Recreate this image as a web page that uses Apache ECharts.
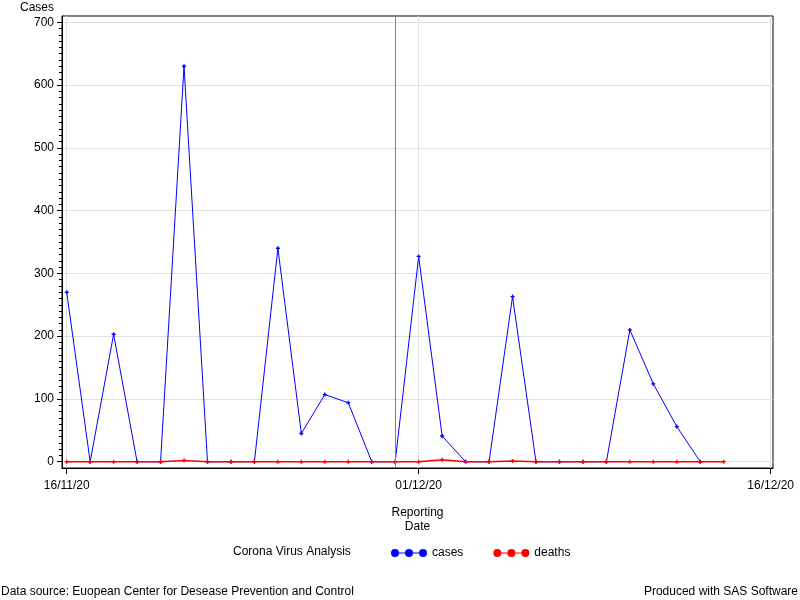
<!DOCTYPE html>
<html>
<head>
<meta charset="utf-8">
<script src="https://cdn.jsdelivr.net/npm/echarts@6/dist/echarts.min.js"></script>
<style>html,body{margin:0;padding:0;background:#fff}#c{width:800px;height:600px}</style>
</head>
<body>
<div id="c"></div>
<script>
// ---- data ----
var dates = ['2020-11-16','2020-11-17','2020-11-18','2020-11-19','2020-11-20','2020-11-21','2020-11-22','2020-11-23','2020-11-24','2020-11-25','2020-11-26','2020-11-27','2020-11-28','2020-11-29','2020-11-30','2020-12-01','2020-12-02','2020-12-03','2020-12-04','2020-12-05','2020-12-06','2020-12-07','2020-12-08','2020-12-09','2020-12-10','2020-12-11','2020-12-12','2020-12-13','2020-12-14'];
var cases = [270, 0, 203, 0, 0, 630, 0, 0, 0, 340, 45, 107, 94, 0, 0, 327, 41, 0, 0, 263, 0, 0, 0, 0, 210, 124, 56, 0];
var deaths = [0, 0, 0, 0, 0, 2, 0, 0, 0, 0, 0, 0, 0, 0, 0, 0, 3, 0, 0, 1, 0, 0, 0, 0, 0, 0, 0, 0, 0];
var xTickDates = ['2020-11-16', '2020-12-01', '2020-12-16'];
var yTicks = [0, 100, 200, 300, 400, 500, 600, 700];
var refDate = '2020-11-30';

function ts(s) { var p = s.split('-'); return Date.UTC(+p[0], +p[1] - 1, +p[2]); }
function fmt(v) {
  var d = new Date(v);
  var dd = ('0' + d.getUTCDate()).slice(-2), mm = ('0' + (d.getUTCMonth() + 1)).slice(-2), yy = ('' + d.getUTCFullYear()).slice(-2);
  return dd + '/' + mm + '/' + yy;
}
var DAY = 86400000;
var xTicks = xTickDates.map(ts);
var yMinor = [];
for (var v = 0; v <= 700; v += 10) yMinor.push(v);

var FONT = 'Liberation Sans, Arial, sans-serif';
var plusPath = 'path://M1,0 H2 V1 H3 V2 H2 V3 H1 V2 H0 V1 H1 Z';
var legendIcon = 'path://M0,4 A4,4 0 1,1 8,4 L14,4 A4,4 0 1,1 22,4 L28,4 A4,4 0 1,1 36,4 A4,4 0 1,1 28,4 L22,4 A4,4 0 1,1 14,4 L8,4 A4,4 0 1,1 0,4 Z M8,3.4 H14 V4.6 H8 Z M22,3.4 H28 V4.6 H22 Z';

var chart = echarts.init(document.getElementById('c'), null, { renderer: 'canvas' });
chart.setOption({
  animation: false,
  backgroundColor: '#fff',
  textStyle: { fontFamily: FONT },
  grid: { left: 62, right: 27, top: 16, bottom: 132, show: true, borderColor: '#000', borderWidth: 1, backgroundColor: 'transparent' },
  legend: {
    left: 386, top: 542,
    itemWidth: 36, itemHeight: 8, itemGap: 30,
    textStyle: { fontFamily: FONT, fontSize: 12, color: '#000' },
    data: [
      { name: 'cases', icon: legendIcon, itemStyle: { color: '#0000ff' } },
      { name: 'deaths', icon: legendIcon, itemStyle: { color: '#ff0000' } }
    ]
  },
  graphic: [
    { type: 'text', left: 233, top: 546, style: { text: 'Corona Virus Analysis', font: '12px ' + FONT, fill: '#000' } },
    { type: 'text', left: 1, top: 586, style: { text: 'Data source: Euopean Center for Desease Prevention and Control', font: '12px ' + FONT, fill: '#000' } },
    { type: 'text', right: 2, top: 586, style: { text: 'Produced with SAS Software', font: '12px ' + FONT, fill: '#000' } }
  ],
  xAxis: {
    type: 'value',
    min: ts(xTickDates[0]) - 0.2 * DAY,
    max: ts(xTickDates[2]) + 0.1 * DAY,
    name: 'Reporting\nDate',
    nameLocation: 'middle',
    nameGap: 38,
    nameTextStyle: { fontFamily: FONT, fontSize: 12, color: '#000', lineHeight: 14 },
    axisLine: { show: true, onZero: false, lineStyle: { color: '#000', width: 1 } },
    axisTick: { show: true, length: 6, customValues: xTicks, lineStyle: { color: '#000' } },
    axisLabel: { customValues: xTicks, formatter: fmt, fontFamily: FONT, fontSize: 12, color: '#000', margin: 12 },
    splitLine: { show: true, lineStyle: { color: '#e0e0e0', width: 1 } }
  },
  yAxis: [{
    type: 'value',
    position: 'left',
    min: -10, max: 710,
    name: 'Cases',
    nameLocation: 'end',
    nameGap: 8,
    nameTextStyle: { fontFamily: FONT, fontSize: 12, color: '#000', align: 'right', verticalAlign: 'middle', padding: [0, 8, 0, 0] },
    axisLine: { show: true, onZero: false, lineStyle: { color: '#000', width: 1 } },
    axisTick: { show: true, length: 5, customValues: yTicks, lineStyle: { color: '#000' } },
    axisLabel: { customValues: yTicks, fontFamily: FONT, fontSize: 12, color: '#000', margin: 8 },
    splitLine: { show: true, lineStyle: { color: '#e0e0e0', width: 1 } }
  }, {
    type: 'value',
    position: 'left',
    min: -10, max: 710,
    axisLine: { show: false, onZero: false },
    axisTick: { show: true, length: 3, customValues: yMinor, lineStyle: { color: '#000' } },
    axisLabel: { show: false },
    splitLine: { show: false }
  }],
  series: [{
    name: 'cases',
    type: 'line',
    yAxisIndex: 0,
    data: cases.map(function (c, i) { return [ts(dates[i]), c]; }),
    symbol: plusPath, symbolSize: 4, showSymbol: true,
    lineStyle: { color: '#0000ff', width: 1 },
    itemStyle: { color: '#0000ff' },
    markLine: {
      silent: true, symbol: ['none', 'none'], label: { show: false },
      lineStyle: { color: '#808080', type: 'solid', width: 1 },
      data: [{ xAxis: ts(refDate) }]
    },
    z: 3
  }, {
    name: 'deaths',
    type: 'line',
    yAxisIndex: 0,
    data: deaths.map(function (c, i) { return [ts(dates[i]), c]; }),
    symbol: plusPath, symbolSize: 4, showSymbol: true,
    lineStyle: { color: '#ff0000', width: 1.5 },
    itemStyle: { color: '#ff0000' },
    z: 4
  }]
});
</script>
</body>
</html>
